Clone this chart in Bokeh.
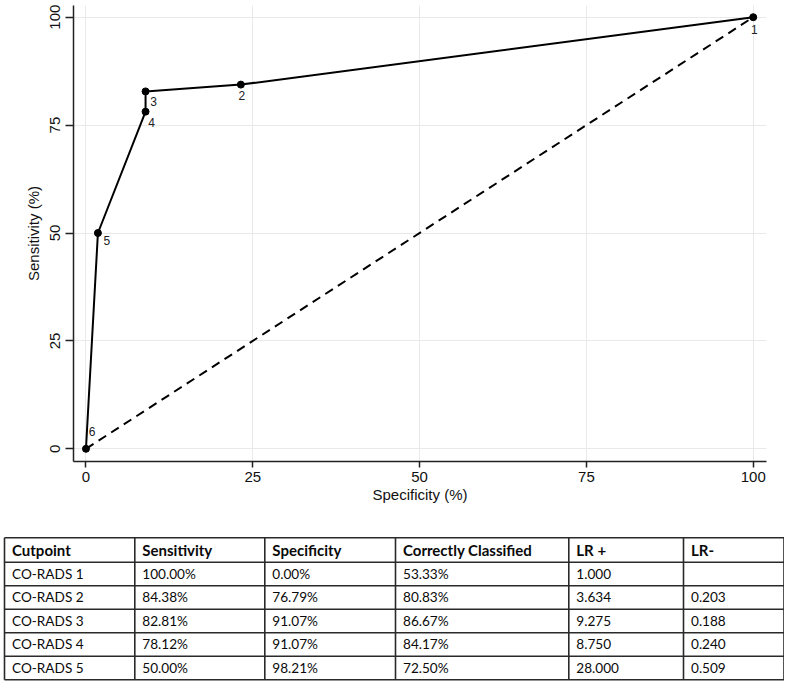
from bokeh.plotting import figure
from bokeh.layouts import column
from bokeh.models import Range1d, FixedTicker, ColumnDataSource
from bokeh.core.properties import value
from bokeh.embed import file_html
from bokeh.resources import INLINE

# ---------------- data ----------------
cut_labels = ["1", "2", "3", "4", "5", "6"]
one_minus_spec = [100.0, 23.21, 8.93, 8.93, 1.79, 0.0]   # x axis (%)
sensitivity_pts = [100.0, 84.38, 82.81, 78.12, 50.0, 0.0]  # y axis (%)
ref_x = [0, 100]
ref_y = [0, 100]
tick_values = [0, 25, 50, 75, 100]

header = ["Cutpoint", "Sensitivity", "Specificity", "Correctly Classified", "LR +", "LR-"]
cutpoint = ["CO-RADS 1", "CO-RADS 2", "CO-RADS 3", "CO-RADS 4", "CO-RADS 5"]
sensitivity = ["100.00%", "84.38%", "82.81%", "78.12%", "50.00%"]
specificity = ["0.00%", "76.79%", "91.07%", "91.07%", "98.21%"]
correct = ["53.33%", "80.83%", "86.67%", "84.17%", "72.50%"]
lr_pos = ["1.000", "3.634", "9.275", "8.750", "28.000"]
lr_neg = ["", "0.203", "0.188", "0.240", "0.509"]

# label placement (screen px offsets, style only)
lab_dx = [1, 1, 8, 6, 9, 6]
lab_dy = [12, 11, 10, 11, 7, -17]

FONT = value("Liberation Sans")

# ---------------- ROC plot ----------------
p = figure(width=784, height=520,
           x_range=Range1d(-1.87, 101.99), y_range=Range1d(-2.94, 102.71),
           output_backend="svg", toolbar_location=None,
           min_border_left=73, min_border_right=18,
           min_border_top=5, min_border_bottom=59)
p.frame_align = False
p.outline_line_color = None
p.background_fill_color = "white"
p.border_fill_color = "white"

for ax in (p.xaxis[0], p.yaxis[0]):
    ax.ticker = FixedTicker(ticks=tick_values)
    ax.minor_tick_line_color = None
    ax.axis_line_color = "#222222"
    ax.axis_line_width = 1.5
    ax.major_tick_line_color = "#222222"
    ax.major_tick_line_width = 1.5
    ax.major_tick_in = 0
    ax.major_label_text_font = "Liberation Sans"
    ax.major_label_text_font_size = "15px"
    ax.major_label_text_color = "#111111"
    ax.axis_label_text_font = "Liberation Sans"
    ax.axis_label_text_font_size = "15px"
    ax.axis_label_text_font_style = "normal"
    ax.axis_label_text_color = "#111111"

p.xaxis[0].major_tick_out = 6
p.xaxis[0].major_label_standoff = 4
p.xaxis[0].axis_label_standoff = 1
p.xaxis[0].axis_label = "Specificity (%)"

p.yaxis[0].major_tick_out = 8
p.yaxis[0].major_label_standoff = 5
p.yaxis[0].major_label_orientation = "vertical"
p.yaxis[0].axis_label_standoff = 6
p.yaxis[0].axis_label = "Sensitivity (%)"

p.xgrid.ticker = FixedTicker(ticks=tick_values)
p.ygrid.ticker = FixedTicker(ticks=tick_values)
p.grid.grid_line_color = "#e9e9e9"
p.grid.grid_line_width = 1

# reference diagonal
p.line(ref_x, ref_y, line_color="black", line_width=2, line_dash="9 6")

src = ColumnDataSource(dict(x=one_minus_spec, y=sensitivity_pts, lab=cut_labels,
                            dx=lab_dx, dy=lab_dy))
p.line("x", "y", source=src, line_color="black", line_width=2)
p.scatter("x", "y", source=src, size=7, color="black")
p.text("x", "y", text="lab", source=src, x_offset="dx", y_offset="dy",
       text_font=FONT, text_font_size="12px", text_color="#222222",
       text_align="center", text_baseline="middle")

# ---------------- table ----------------
TW, TH = 784, 164
t = figure(width=TW, height=TH, x_range=Range1d(0, TW), y_range=Range1d(TH, 0),
           output_backend="svg", toolbar_location=None,
           x_axis_location=None, y_axis_location=None,
           min_border=0, min_border_left=0, min_border_right=0,
           min_border_top=0, min_border_bottom=0)
t.frame_align = False
t.grid.visible = False
t.outline_line_color = None
t.background_fill_color = "white"
t.border_fill_color = "white"

col_edges = [4.0, 134.3, 264.3, 395.0, 568.3, 683.0, 783.5]
top = 17.3
head_h = 24.4
row_h = 23.5
row_edges = [top, top + head_h] + [top + head_h + row_h * (i + 1) for i in range(len(cutpoint))]

# table rules
t.segment(x0=[col_edges[0]] * len(row_edges), y0=row_edges,
          x1=[col_edges[-1]] * len(row_edges), y1=row_edges,
          line_color="#2a2a2a", line_width=1.6)
t.segment(x0=col_edges, y0=[row_edges[0]] * len(col_edges),
          x1=col_edges, y1=[row_edges[-1]] * len(col_edges),
          line_color="#2a2a2a", line_width=1.6)

TFONT = value("Lato")
pad = 7.5
hx = [c + pad for c in col_edges[:-1]]
hy = [(row_edges[0] + row_edges[1]) / 2] * len(header)
t.text(x=hx, y=hy, text=header, text_font=TFONT, text_font_size="15px",
       text_font_style="bold", text_color="#0a0a0a", text_baseline="middle")

columns = [cutpoint, sensitivity, specificity, correct, lr_pos, lr_neg]
cx, cy, ct = [], [], []
for j, col in enumerate(columns):
    for i, s in enumerate(col):
        cx.append(col_edges[j] + pad)
        cy.append((row_edges[i + 1] + row_edges[i + 2]) / 2)
        ct.append(s)
t.text(x=cx, y=cy, text=ct, text_font=TFONT, text_font_size="13.6px",
       text_color="#0a0a0a", text_baseline="middle")

layout = column(p, t, spacing=0)
open("out.html", "w").write(file_html(layout, INLINE))
